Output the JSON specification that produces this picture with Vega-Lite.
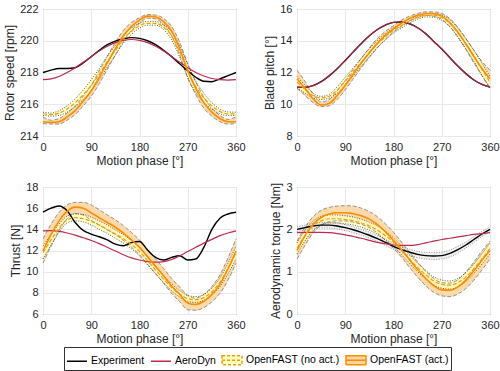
{
"$schema": "https://vega.github.io/schema/vega-lite/v6.json",
"padding": {"top": 2, "left": 3, "right": 2, "bottom": 0},
"bounds": "flush",
"columns": 2,
"spacing": {"row": 51, "column": 61},
"config": {
  "font": "Liberation Sans",
  "view": {"stroke": "#808080", "strokeWidth": 1},
  "axis": {"grid": true, "gridColor": "#e8e8e8", "gridWidth": 1, "domain": false, "ticks": false, "labelFontSize": 11, "labelColor": "#262626", "labelPadding": 5, "labelFlush": false, "labelOverlap": false, "titleFontSize": 12, "titleFontWeight": "normal", "titleColor": "#262626", "titlePadding": 3, "format": "d"},
  "axisX": {"labelPadding": 5, "titlePadding": 3},
  "legend": {"orient": "none", "legendX": 21, "legendY": 338, "direction": "horizontal", "strokeColor": "#333333", "fillColor": "white", "padding": 2, "labelFontSize": 10.5, "labelColor": "#000000", "symbolSize": 400, "columnPadding": 3, "labelOffset": 3},
  "line": {"interpolate": "monotone"},
  "area": {"interpolate": "monotone"}
},
"datasets": {"d": [
{"p":"r","t":0,"e":218.0,"a":217.55,"n":215.4,"nl":215.3,"nh":215.5,"c":214.9,"cl":214.78,"ch":215.2},
{"p":"r","t":15,"e":218.15,"a":217.6,"n":215.35,"nl":215.25,"nh":215.45,"c":214.85,"cl":214.75,"ch":215.0},
{"p":"r","t":30,"e":218.25,"a":217.75,"n":215.45,"nl":215.3,"nh":215.6,"c":214.9,"cl":214.75,"ch":215.1},
{"p":"r","t":45,"e":218.25,"a":218.0,"n":215.7,"nl":215.5,"nh":215.9,"c":215.2,"cl":215.0,"ch":215.45},
{"p":"r","t":60,"e":218.3,"a":218.3,"n":216.1,"nl":215.85,"nh":216.35,"c":215.6,"cl":215.35,"ch":215.9},
{"p":"r","t":75,"e":218.6,"a":218.65,"n":216.6,"nl":216.3,"nh":216.9,"c":216.2,"cl":215.9,"ch":216.5},
{"p":"r","t":90,"e":219.0,"a":219.0,"n":217.2,"nl":216.85,"nh":217.55,"c":216.85,"cl":216.5,"ch":217.2},
{"p":"r","t":105,"e":219.4,"a":219.35,"n":217.9,"nl":217.55,"nh":218.25,"c":217.7,"cl":217.3,"ch":218.1},
{"p":"r","t":120,"e":219.75,"a":219.65,"n":218.7,"nl":218.35,"nh":219.05,"c":218.6,"cl":218.2,"ch":219.0},
{"p":"r","t":135,"e":219.98,"a":219.88,"n":219.4,"nl":219.1,"nh":219.7,"c":219.5,"cl":219.1,"ch":219.9},
{"p":"r","t":150,"e":220.12,"a":220.02,"n":220.1,"nl":219.85,"nh":220.35,"c":220.3,"cl":219.95,"ch":220.65},
{"p":"r","t":165,"e":220.2,"a":220.08,"n":220.6,"nl":220.4,"nh":220.8,"c":220.9,"cl":220.65,"ch":221.15},
{"p":"r","t":180,"e":220.15,"a":220.02,"n":220.95,"nl":220.8,"nh":221.1,"c":221.3,"cl":221.1,"ch":221.45},
{"p":"r","t":195,"e":220.0,"a":219.88,"n":221.1,"nl":220.98,"nh":221.22,"c":221.55,"cl":221.42,"ch":221.65},
{"p":"r","t":210,"e":219.75,"a":219.65,"n":221.1,"nl":220.98,"nh":221.22,"c":221.5,"cl":221.38,"ch":221.62},
{"p":"r","t":225,"e":219.4,"a":219.35,"n":220.85,"nl":220.7,"nh":221.0,"c":221.2,"cl":221.0,"ch":221.4},
{"p":"r","t":240,"e":219.0,"a":219.0,"n":220.3,"nl":220.05,"nh":220.55,"c":220.6,"cl":220.3,"ch":220.9},
{"p":"r","t":255,"e":218.55,"a":218.65,"n":219.3,"nl":218.95,"nh":219.65,"c":219.5,"cl":219.1,"ch":219.9},
{"p":"r","t":270,"e":218.1,"a":218.3,"n":218.1,"nl":217.7,"nh":218.5,"c":218.1,"cl":217.65,"ch":218.55},
{"p":"r","t":285,"e":217.7,"a":218.0,"n":217.1,"nl":216.75,"nh":217.45,"c":217.0,"cl":216.6,"ch":217.4},
{"p":"r","t":300,"e":217.45,"a":217.78,"n":216.4,"nl":216.1,"nh":216.7,"c":216.1,"cl":215.75,"ch":216.45},
{"p":"r","t":315,"e":217.42,"a":217.62,"n":215.9,"nl":215.7,"nh":216.1,"c":215.5,"cl":215.25,"ch":215.75},
{"p":"r","t":330,"e":217.6,"a":217.55,"n":215.55,"nl":215.4,"nh":215.7,"c":215.1,"cl":214.9,"ch":215.3},
{"p":"r","t":345,"e":217.8,"a":217.52,"n":215.4,"nl":215.28,"nh":215.52,"c":214.9,"cl":214.75,"ch":215.05},
{"p":"r","t":360,"e":218.0,"a":217.55,"n":215.4,"nl":215.3,"nh":215.5,"c":214.9,"cl":214.78,"ch":215.2},
{"p":"b","t":0,"e":11.08,"a":11.08,"n":11.4,"nl":11.05,"nh":11.75,"c":11.6,"cl":11.0,"ch":12.15},
{"p":"b","t":15,"e":11.06,"a":11.06,"n":10.95,"nl":10.7,"nh":11.2,"c":11.0,"cl":10.55,"ch":11.45},
{"p":"b","t":30,"e":11.17,"a":11.17,"n":10.55,"nl":10.4,"nh":10.7,"c":10.35,"cl":10.1,"ch":10.65},
{"p":"b","t":45,"e":11.42,"a":11.42,"n":10.4,"nl":10.3,"nh":10.5,"c":9.95,"cl":9.85,"ch":10.15},
{"p":"b","t":60,"e":11.79,"a":11.79,"n":10.5,"nl":10.38,"nh":10.62,"c":10.05,"cl":9.9,"ch":10.3},
{"p":"b","t":75,"e":12.24,"a":12.24,"n":10.9,"nl":10.7,"nh":11.1,"c":10.55,"cl":10.3,"ch":10.85},
{"p":"b","t":90,"e":12.76,"a":12.76,"n":11.45,"nl":11.2,"nh":11.7,"c":11.2,"cl":10.9,"ch":11.5},
{"p":"b","t":105,"e":13.3,"a":13.3,"n":12.05,"nl":11.8,"nh":12.3,"c":11.9,"cl":11.6,"ch":12.2},
{"p":"b","t":120,"e":13.83,"a":13.83,"n":12.65,"nl":12.4,"nh":12.9,"c":12.6,"cl":12.3,"ch":12.9},
{"p":"b","t":135,"e":14.31,"a":14.31,"n":13.25,"nl":13.0,"nh":13.5,"c":13.25,"cl":12.95,"ch":13.55},
{"p":"b","t":150,"e":14.71,"a":14.71,"n":13.8,"nl":13.58,"nh":14.02,"c":13.85,"cl":13.55,"ch":14.15},
{"p":"b","t":165,"e":14.99,"a":14.99,"n":14.25,"nl":14.05,"nh":14.45,"c":14.35,"cl":14.1,"ch":14.6},
{"p":"b","t":180,"e":15.16,"a":15.16,"n":14.65,"nl":14.48,"nh":14.82,"c":14.75,"cl":14.55,"ch":14.95},
{"p":"b","t":195,"e":15.18,"a":15.18,"n":14.95,"nl":14.8,"nh":15.1,"c":15.1,"cl":14.9,"ch":15.3},
{"p":"b","t":210,"e":15.07,"a":15.07,"n":15.25,"nl":15.12,"nh":15.38,"c":15.4,"cl":15.25,"ch":15.55},
{"p":"b","t":225,"e":14.82,"a":14.82,"n":15.45,"nl":15.35,"nh":15.55,"c":15.6,"cl":15.48,"ch":15.72},
{"p":"b","t":240,"e":14.45,"a":14.45,"n":15.6,"nl":15.5,"nh":15.7,"c":15.72,"cl":15.6,"ch":15.82},
{"p":"b","t":255,"e":13.96,"a":13.96,"n":15.6,"nl":15.48,"nh":15.72,"c":15.7,"cl":15.55,"ch":15.82},
{"p":"b","t":270,"e":13.48,"a":13.48,"n":15.45,"nl":15.28,"nh":15.62,"c":15.55,"cl":15.35,"ch":15.72},
{"p":"b","t":285,"e":12.94,"a":12.94,"n":15.1,"nl":14.88,"nh":15.32,"c":15.15,"cl":14.9,"ch":15.4},
{"p":"b","t":300,"e":12.41,"a":12.41,"n":14.5,"nl":14.22,"nh":14.78,"c":14.55,"cl":14.25,"ch":14.85},
{"p":"b","t":315,"e":11.93,"a":11.93,"n":13.8,"nl":13.48,"nh":14.12,"c":13.8,"cl":13.45,"ch":14.15},
{"p":"b","t":330,"e":11.53,"a":11.53,"n":13.05,"nl":12.7,"nh":13.4,"c":13.0,"cl":12.6,"ch":13.4},
{"p":"b","t":345,"e":11.25,"a":11.25,"n":12.2,"nl":11.82,"nh":12.58,"c":12.25,"cl":11.8,"ch":12.7},
{"p":"b","t":360,"e":11.08,"a":11.08,"n":11.4,"nl":11.05,"nh":11.75,"c":11.6,"cl":11.0,"ch":12.15},
{"p":"f","t":0,"e":15.62,"a":13.85,"n":11.8,"nl":11.2,"nh":12.4,"c":11.95,"cl":10.8,"ch":13.1},
{"p":"f","t":15,"e":16.0,"a":13.87,"n":13.0,"nl":12.5,"nh":13.5,"c":13.5,"cl":12.4,"ch":14.5},
{"p":"f","t":30,"e":16.2,"a":13.8,"n":14.1,"nl":13.7,"nh":14.5,"c":14.8,"cl":13.9,"ch":15.6},
{"p":"f","t":45,"e":15.75,"a":13.65,"n":14.9,"nl":14.6,"nh":15.25,"c":15.7,"cl":15.0,"ch":16.3},
{"p":"f","t":60,"e":14.65,"a":13.45,"n":15.1,"nl":14.8,"nh":15.45,"c":16.1,"cl":15.5,"ch":16.55},
{"p":"f","t":75,"e":13.9,"a":13.2,"n":15.0,"nl":14.7,"nh":15.4,"c":16.0,"cl":15.35,"ch":16.55},
{"p":"f","t":90,"e":13.55,"a":12.95,"n":14.75,"nl":14.4,"nh":15.15,"c":15.55,"cl":14.85,"ch":16.3},
{"p":"f","t":105,"e":13.3,"a":12.65,"n":14.4,"nl":14.0,"nh":14.8,"c":15.1,"cl":14.4,"ch":15.85},
{"p":"f","t":120,"e":13.0,"a":12.3,"n":14.0,"nl":13.6,"nh":14.4,"c":14.65,"cl":13.95,"ch":15.35},
{"p":"f","t":135,"e":12.6,"a":11.95,"n":13.55,"nl":13.15,"nh":13.95,"c":14.2,"cl":13.5,"ch":14.9},
{"p":"f","t":150,"e":12.45,"a":11.6,"n":13.1,"nl":12.7,"nh":13.5,"c":13.65,"cl":12.95,"ch":14.35},
{"p":"f","t":165,"e":12.75,"a":11.3,"n":12.55,"nl":12.15,"nh":12.95,"c":13.0,"cl":12.3,"ch":13.7},
{"p":"f","t":180,"e":12.85,"a":11.1,"n":11.9,"nl":11.5,"nh":12.3,"c":12.3,"cl":11.6,"ch":13.0},
{"p":"f","t":195,"e":12.05,"a":10.95,"n":11.05,"nl":10.65,"nh":11.45,"c":11.4,"cl":10.7,"ch":12.1},
{"p":"f","t":210,"e":11.35,"a":10.9,"n":10.15,"nl":9.8,"nh":10.5,"c":10.5,"cl":9.8,"ch":11.2},
{"p":"f","t":225,"e":11.1,"a":10.95,"n":9.3,"nl":8.95,"nh":9.65,"c":9.6,"cl":8.9,"ch":10.3},
{"p":"f","t":240,"e":11.35,"a":11.15,"n":8.5,"nl":8.2,"nh":8.85,"c":8.65,"cl":7.95,"ch":9.35},
{"p":"f","t":255,"e":11.5,"a":11.5,"n":7.9,"nl":7.6,"nh":8.2,"c":7.85,"cl":7.15,"ch":8.55},
{"p":"f","t":270,"e":11.1,"a":11.9,"n":7.45,"nl":7.2,"nh":7.75,"c":7.05,"cl":6.4,"ch":7.75},
{"p":"f","t":285,"e":11.2,"a":12.3,"n":7.35,"nl":7.1,"nh":7.65,"c":6.9,"cl":6.35,"ch":7.5},
{"p":"f","t":300,"e":12.3,"a":12.7,"n":7.55,"nl":7.3,"nh":7.85,"c":7.2,"cl":6.6,"ch":7.85},
{"p":"f","t":315,"e":14.0,"a":13.05,"n":8.1,"nl":7.8,"nh":8.45,"c":7.85,"cl":7.15,"ch":8.6},
{"p":"f","t":330,"e":15.05,"a":13.4,"n":9.0,"nl":8.6,"nh":9.4,"c":8.8,"cl":7.95,"ch":9.7},
{"p":"f","t":345,"e":15.45,"a":13.65,"n":10.3,"nl":9.8,"nh":10.8,"c":10.25,"cl":9.2,"ch":11.3},
{"p":"f","t":360,"e":15.62,"a":13.85,"n":11.8,"nl":11.2,"nh":12.4,"c":11.95,"cl":10.8,"ch":13.1},
{"p":"q","t":0,"e":2.0,"el":1.94,"eh":2.06,"a":1.92,"n":1.55,"nl":1.42,"nh":1.68,"c":1.5,"cl":1.3,"ch":1.72},
{"p":"q","t":15,"e":2.04,"el":1.98,"eh":2.1,"a":1.93,"n":1.85,"nl":1.73,"nh":1.97,"c":1.85,"cl":1.62,"ch":2.05},
{"p":"q","t":30,"e":2.08,"el":2.01,"eh":2.14,"a":1.93,"n":2.08,"nl":1.97,"nh":2.19,"c":2.12,"cl":1.92,"ch":2.3},
{"p":"q","t":45,"e":2.1,"el":2.03,"eh":2.16,"a":1.93,"n":2.2,"nl":2.1,"nh":2.3,"c":2.28,"cl":2.1,"ch":2.45},
{"p":"q","t":60,"e":2.1,"el":2.03,"eh":2.16,"a":1.92,"n":2.25,"nl":2.15,"nh":2.34,"c":2.36,"cl":2.18,"ch":2.52},
{"p":"q","t":75,"e":2.08,"el":2.01,"eh":2.15,"a":1.9,"n":2.25,"nl":2.15,"nh":2.34,"c":2.39,"cl":2.2,"ch":2.55},
{"p":"q","t":90,"e":2.04,"el":1.97,"eh":2.11,"a":1.87,"n":2.23,"nl":2.13,"nh":2.32,"c":2.39,"cl":2.2,"ch":2.56},
{"p":"q","t":105,"e":1.99,"el":1.92,"eh":2.06,"a":1.83,"n":2.2,"nl":2.1,"nh":2.29,"c":2.37,"cl":2.17,"ch":2.55},
{"p":"q","t":120,"e":1.93,"el":1.86,"eh":2.0,"a":1.79,"n":2.15,"nl":2.05,"nh":2.24,"c":2.32,"cl":2.12,"ch":2.5},
{"p":"q","t":135,"e":1.86,"el":1.79,"eh":1.93,"a":1.74,"n":2.08,"nl":1.98,"nh":2.17,"c":2.24,"cl":2.04,"ch":2.42},
{"p":"q","t":150,"e":1.78,"el":1.71,"eh":1.85,"a":1.69,"n":1.98,"nl":1.88,"nh":2.08,"c":2.11,"cl":1.91,"ch":2.3},
{"p":"q","t":165,"e":1.69,"el":1.62,"eh":1.76,"a":1.66,"n":1.85,"nl":1.75,"nh":1.95,"c":1.94,"cl":1.74,"ch":2.13},
{"p":"q","t":180,"e":1.6,"el":1.53,"eh":1.67,"a":1.63,"n":1.7,"nl":1.6,"nh":1.8,"c":1.74,"cl":1.55,"ch":1.93},
{"p":"q","t":195,"e":1.52,"el":1.45,"eh":1.59,"a":1.62,"n":1.5,"nl":1.4,"nh":1.6,"c":1.52,"cl":1.34,"ch":1.7},
{"p":"q","t":210,"e":1.46,"el":1.38,"eh":1.53,"a":1.62,"n":1.3,"nl":1.2,"nh":1.4,"c":1.28,"cl":1.1,"ch":1.46},
{"p":"q","t":225,"e":1.41,"el":1.33,"eh":1.48,"a":1.64,"n":1.1,"nl":1.0,"nh":1.2,"c":1.05,"cl":0.87,"ch":1.23},
{"p":"q","t":240,"e":1.38,"el":1.3,"eh":1.46,"a":1.68,"n":0.93,"nl":0.83,"nh":1.03,"c":0.84,"cl":0.67,"ch":1.01},
{"p":"q","t":255,"e":1.37,"el":1.29,"eh":1.45,"a":1.72,"n":0.78,"nl":0.69,"nh":0.88,"c":0.67,"cl":0.51,"ch":0.84},
{"p":"q","t":270,"e":1.38,"el":1.3,"eh":1.46,"a":1.76,"n":0.7,"nl":0.61,"nh":0.8,"c":0.57,"cl":0.43,"ch":0.74},
{"p":"q","t":285,"e":1.43,"el":1.35,"eh":1.51,"a":1.79,"n":0.68,"nl":0.59,"nh":0.78,"c":0.56,"cl":0.41,"ch":0.73},
{"p":"q","t":300,"e":1.52,"el":1.44,"eh":1.6,"a":1.82,"n":0.74,"nl":0.64,"nh":0.84,"c":0.64,"cl":0.47,"ch":0.81},
{"p":"q","t":315,"e":1.63,"el":1.56,"eh":1.7,"a":1.85,"n":0.87,"nl":0.77,"nh":0.98,"c":0.8,"cl":0.6,"ch":0.99},
{"p":"q","t":330,"e":1.76,"el":1.69,"eh":1.83,"a":1.88,"n":1.07,"nl":0.96,"nh":1.18,"c":1.02,"cl":0.8,"ch":1.23},
{"p":"q","t":345,"e":1.89,"el":1.83,"eh":1.95,"a":1.9,"n":1.3,"nl":1.18,"nh":1.42,"c":1.27,"cl":1.04,"ch":1.49},
{"p":"q","t":360,"e":2.0,"el":1.94,"eh":2.06,"a":1.92,"n":1.55,"nl":1.42,"nh":1.68,"c":1.5,"cl":1.3,"ch":1.72}
]},
"concat": [
{
 "width": 193, "height": 127,
 "data": {"name": "d"},
 "transform": [{"filter": "datum.p === 'r'"}],
 "encoding": {"x": {"field": "t", "type": "quantitative", "scale": {"domain": [0, 360], "nice": false}, "axis": {"values": [0, 90, 180, 270, 360], "tickCount": 20, "format": "d", "title": "Motion phase [°]"}}},
 "layer": [
  {"mark": {"type": "area", "color": "#fdd6a0", "opacity": 0.9}, "encoding": {"y": {"field": "cl", "type": "quantitative", "scale": {"domain": [214, 222], "nice": false}, "axis": {"values": [214, 216, 218, 220, 222], "tickCount": 20, "format": "d", "title": "Rotor speed [rpm]"}}, "y2": {"field": "ch"}}},
  {"mark": {"type": "area", "color": "#ffffbe", "opacity": 0.8}, "encoding": {"y": {"field": "nl", "type": "quantitative"}, "y2": {"field": "nh"}}},
  {"mark": {"type": "line", "color": "#7a7a7a", "strokeDash": [4, 2], "strokeWidth": 0.8}, "encoding": {"y": {"field": "cl", "type": "quantitative"}}},
  {"mark": {"type": "line", "color": "#7a7a7a", "strokeDash": [4, 2], "strokeWidth": 0.8}, "encoding": {"y": {"field": "ch", "type": "quantitative"}}},
  {"mark": {"type": "line", "color": "#333333", "strokeDash": [1, 1.5], "strokeWidth": 0.8}, "encoding": {"y": {"field": "nl", "type": "quantitative"}}},
  {"mark": {"type": "line", "color": "#333333", "strokeDash": [1, 1.5], "strokeWidth": 0.8}, "encoding": {"y": {"field": "nh", "type": "quantitative"}}},
  {"mark": {"type": "line", "strokeWidth": 1.4}, "encoding": {"y": {"field": "e", "type": "quantitative"}, "color": {"datum": "Experiment", "type": "nominal", "scale": {"domain": ["Experiment", "AeroDyn", "OpenFAST (no act.)", "OpenFAST (act.)"], "range": ["#000000", "#be2a4c", "#f39c12", "#ff8c00"]}, "legend": {"title": null, "encode": {"symbols": {"update": {"shape": {"signal": "datum.value === 'Experiment' || datum.value === 'AeroDyn' ? 'stroke' : 'M-1,-0.45H1V0.45H-1Z M-1,0H1'"}, "fill": {"signal": "datum.value === 'OpenFAST (no act.)' ? '#ffffbe' : datum.value === 'OpenFAST (act.)' ? '#fdd6a0' : 'transparent'"}, "stroke": {"signal": "datum.value === 'Experiment' ? '#000000' : datum.value === 'AeroDyn' ? '#be2a4c' : datum.value === 'OpenFAST (no act.)' ? '#f39c12' : '#ff8c00'"}, "strokeDash": {"signal": "datum.value === 'OpenFAST (no act.)' ? [3, 2] : [1, 0]"}, "strokeWidth": {"value": 1.5}, "opacity": {"value": 1}}}}}}}},
  {"mark": {"type": "line", "strokeWidth": 1.2}, "encoding": {"y": {"field": "a", "type": "quantitative"}, "color": {"datum": "AeroDyn", "type": "nominal"}}},
  {"mark": {"type": "line", "strokeWidth": 1.2, "strokeDash": [4, 2]}, "encoding": {"y": {"field": "n", "type": "quantitative"}, "color": {"datum": "OpenFAST (no act.)", "type": "nominal"}}},
  {"mark": {"type": "line", "strokeWidth": 1.6}, "encoding": {"y": {"field": "c", "type": "quantitative"}, "color": {"datum": "OpenFAST (act.)", "type": "nominal"}}}
 ]
},
{
 "width": 193, "height": 127,
 "data": {"name": "d"},
 "transform": [{"filter": "datum.p === 'b'"}],
 "encoding": {"x": {"field": "t", "type": "quantitative", "scale": {"domain": [0, 360], "nice": false}, "axis": {"values": [0, 90, 180, 270, 360], "tickCount": 20, "format": "d", "title": "Motion phase [°]"}}},
 "layer": [
  {"mark": {"type": "area", "color": "#fdd6a0", "opacity": 0.9}, "encoding": {"y": {"field": "cl", "type": "quantitative", "scale": {"domain": [8, 16], "nice": false}, "axis": {"values": [8, 10, 12, 14, 16], "tickCount": 20, "format": "d", "title": "Blade pitch [°]"}}, "y2": {"field": "ch"}}},
  {"mark": {"type": "area", "color": "#ffffbe", "opacity": 0.8}, "encoding": {"y": {"field": "nl", "type": "quantitative"}, "y2": {"field": "nh"}}},
  {"mark": {"type": "line", "color": "#7a7a7a", "strokeDash": [4, 2], "strokeWidth": 0.8}, "encoding": {"y": {"field": "cl", "type": "quantitative"}}},
  {"mark": {"type": "line", "color": "#7a7a7a", "strokeDash": [4, 2], "strokeWidth": 0.8}, "encoding": {"y": {"field": "ch", "type": "quantitative"}}},
  {"mark": {"type": "line", "color": "#333333", "strokeDash": [1, 1.5], "strokeWidth": 0.8}, "encoding": {"y": {"field": "nl", "type": "quantitative"}}},
  {"mark": {"type": "line", "color": "#333333", "strokeDash": [1, 1.5], "strokeWidth": 0.8}, "encoding": {"y": {"field": "nh", "type": "quantitative"}}},
  {"mark": {"type": "line", "strokeWidth": 1.4}, "encoding": {"y": {"field": "e", "type": "quantitative"}, "color": {"datum": "Experiment", "type": "nominal"}}},
  {"mark": {"type": "line", "strokeWidth": 1.2, "opacity": 0.85}, "encoding": {"y": {"field": "a", "type": "quantitative"}, "color": {"datum": "AeroDyn", "type": "nominal"}}},
  {"mark": {"type": "line", "strokeWidth": 1.2, "strokeDash": [4, 2]}, "encoding": {"y": {"field": "n", "type": "quantitative"}, "color": {"datum": "OpenFAST (no act.)", "type": "nominal"}}},
  {"mark": {"type": "line", "strokeWidth": 1.6}, "encoding": {"y": {"field": "c", "type": "quantitative"}, "color": {"datum": "OpenFAST (act.)", "type": "nominal"}}}
 ]
},
{
 "width": 193, "height": 127,
 "data": {"name": "d"},
 "transform": [{"filter": "datum.p === 'f'"}],
 "encoding": {"x": {"field": "t", "type": "quantitative", "scale": {"domain": [0, 360], "nice": false}, "axis": {"values": [0, 90, 180, 270, 360], "tickCount": 20, "format": "d", "title": "Motion phase [°]"}}},
 "layer": [
  {"mark": {"type": "area", "color": "#fdd6a0", "opacity": 0.9}, "encoding": {"y": {"field": "cl", "type": "quantitative", "scale": {"domain": [6, 18], "nice": false}, "axis": {"values": [6, 8, 10, 12, 14, 16, 18], "tickCount": 20, "format": "d", "title": "Thrust [N]"}}, "y2": {"field": "ch"}}},
  {"mark": {"type": "area", "color": "#ffffbe", "opacity": 0.8}, "encoding": {"y": {"field": "nl", "type": "quantitative"}, "y2": {"field": "nh"}}},
  {"mark": {"type": "line", "color": "#7a7a7a", "strokeDash": [4, 2], "strokeWidth": 0.8}, "encoding": {"y": {"field": "cl", "type": "quantitative"}}},
  {"mark": {"type": "line", "color": "#7a7a7a", "strokeDash": [4, 2], "strokeWidth": 0.8}, "encoding": {"y": {"field": "ch", "type": "quantitative"}}},
  {"mark": {"type": "line", "color": "#333333", "strokeDash": [1, 1.5], "strokeWidth": 0.8}, "encoding": {"y": {"field": "nl", "type": "quantitative"}}},
  {"mark": {"type": "line", "color": "#333333", "strokeDash": [1, 1.5], "strokeWidth": 0.8}, "encoding": {"y": {"field": "nh", "type": "quantitative"}}},
  {"mark": {"type": "line", "strokeWidth": 1.4}, "encoding": {"y": {"field": "e", "type": "quantitative"}, "color": {"datum": "Experiment", "type": "nominal"}}},
  {"mark": {"type": "line", "strokeWidth": 1.2}, "encoding": {"y": {"field": "a", "type": "quantitative"}, "color": {"datum": "AeroDyn", "type": "nominal"}}},
  {"mark": {"type": "line", "strokeWidth": 1.2, "strokeDash": [4, 2]}, "encoding": {"y": {"field": "n", "type": "quantitative"}, "color": {"datum": "OpenFAST (no act.)", "type": "nominal"}}},
  {"mark": {"type": "line", "strokeWidth": 1.6}, "encoding": {"y": {"field": "c", "type": "quantitative"}, "color": {"datum": "OpenFAST (act.)", "type": "nominal"}}}
 ]
},
{
 "width": 193, "height": 127,
 "data": {"name": "d"},
 "transform": [{"filter": "datum.p === 'q'"}],
 "encoding": {"x": {"field": "t", "type": "quantitative", "scale": {"domain": [0, 360], "nice": false}, "axis": {"values": [0, 90, 180, 270, 360], "tickCount": 20, "format": "d", "title": "Motion phase [°]"}}},
 "layer": [
  {"mark": {"type": "area", "color": "#fdd6a0", "opacity": 0.9}, "encoding": {"y": {"field": "cl", "type": "quantitative", "scale": {"domain": [0, 3], "nice": false}, "axis": {"values": [0, 1, 2, 3], "tickCount": 20, "format": "d", "title": "Aerodynamic torque [Nm]"}}, "y2": {"field": "ch"}}},
  {"mark": {"type": "area", "color": "#ffffbe", "opacity": 0.8}, "encoding": {"y": {"field": "nl", "type": "quantitative"}, "y2": {"field": "nh"}}},
  {"mark": {"type": "area", "color": "#e6e6e6", "opacity": 0.6}, "encoding": {"y": {"field": "el", "type": "quantitative"}, "y2": {"field": "eh"}}},
  {"mark": {"type": "line", "color": "#7a7a7a", "strokeDash": [4, 2], "strokeWidth": 0.8}, "encoding": {"y": {"field": "cl", "type": "quantitative"}}},
  {"mark": {"type": "line", "color": "#7a7a7a", "strokeDash": [4, 2], "strokeWidth": 0.8}, "encoding": {"y": {"field": "ch", "type": "quantitative"}}},
  {"mark": {"type": "line", "color": "#333333", "strokeDash": [1, 1.5], "strokeWidth": 0.8}, "encoding": {"y": {"field": "nl", "type": "quantitative"}}},
  {"mark": {"type": "line", "color": "#333333", "strokeDash": [1, 1.5], "strokeWidth": 0.8}, "encoding": {"y": {"field": "nh", "type": "quantitative"}}},
  {"mark": {"type": "line", "color": "#777777", "strokeDash": [1, 1.5], "strokeWidth": 0.8}, "encoding": {"y": {"field": "el", "type": "quantitative"}}},
  {"mark": {"type": "line", "color": "#777777", "strokeDash": [1, 1.5], "strokeWidth": 0.8}, "encoding": {"y": {"field": "eh", "type": "quantitative"}}},
  {"mark": {"type": "line", "strokeWidth": 1.4}, "encoding": {"y": {"field": "e", "type": "quantitative"}, "color": {"datum": "Experiment", "type": "nominal"}}},
  {"mark": {"type": "line", "strokeWidth": 1.2}, "encoding": {"y": {"field": "a", "type": "quantitative"}, "color": {"datum": "AeroDyn", "type": "nominal"}}},
  {"mark": {"type": "line", "strokeWidth": 1.2, "strokeDash": [4, 2]}, "encoding": {"y": {"field": "n", "type": "quantitative"}, "color": {"datum": "OpenFAST (no act.)", "type": "nominal"}}},
  {"mark": {"type": "line", "strokeWidth": 1.6}, "encoding": {"y": {"field": "c", "type": "quantitative"}, "color": {"datum": "OpenFAST (act.)", "type": "nominal"}}}
 ]
}
]
}
